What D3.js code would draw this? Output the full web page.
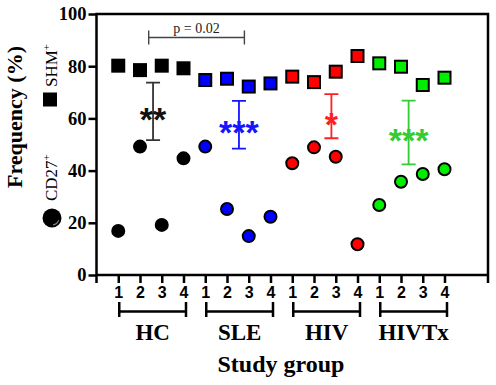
<!DOCTYPE html>
<html>
<head>
<meta charset="utf-8">
<script src="https://cdn.jsdelivr.net/npm/d3@7"></script>
<style>
  body { margin: 0; background: #fff; }
  svg { display: block; }
</style>
</head>
<body>
<div id="chart"></div>
<script>
// data
var groups = ["HC", "SLE", "HIV", "HIVTx"];
var samples = ["1", "2", "3", "4"];
var groupColors = ["#000000", "#0000ff", "#ff0000", "#00ee00"];
var barColors = ["#333333", "#1414ff", "#ff1f1f", "#33cc33"];

// SHM+ (squares) and CD27+ (circles), 4 samples per group
var shm = [80.2, 78.5, 80.2, 79.2, 74.7, 75.2, 72.2, 73.4, 76.0, 73.9, 77.9, 83.9, 81.1, 79.8, 72.8, 75.6];
var cd27 = [16.9, 49.2, 19.2, 44.7, 49.2, 25.3, 14.9, 22.3, 42.8, 48.9, 45.3, 11.8, 26.8, 35.7, 38.7, 40.5];

// difference bars between the two markers
var barLow = [51.7, 48.4, 52.4, 42.4];
var barHigh = [73.7, 66.7, 69.3, 66.8];
var barPos = [1.6, 5.55, 9.8, 13.35];
var stars = ["**", "***", "*", "***"];

var yTicks = [0, 20, 40, 60, 80, 100];
var pText = "p = 0.02";
var pRange = [1.4, 5.8];
var pLevel = 91;

var serif = "'Liberation Serif', 'Times New Roman', serif";
var sans = "'Liberation Sans', Arial, sans-serif";

var W = 496, H = 385;
var svg = d3.select("#chart").append("svg")
    .attr("width", W)
    .attr("height", H);

var x = d3.scaleLinear().domain([-1, 17]).range([96.5, 488]);
var y = d3.scaleLinear().domain([0, 100]).range([275, 14]);

var pts = shm.map(function(v, i) {
    return {i: i, g: Math.floor(i / 4), shm: v, cd27: cd27[i]};
});

// frame: left axis, top, right, bottom
var frame = svg.append("g").attr("stroke", "#000").attr("stroke-width", 2.5).attr("fill", "none");
frame.append("path").attr("d", "M" + x(-1) + "," + (y(0) + 8) + "V" + y(100) + "H" + x(17) + "V" + (y(0) + 8));

var yAx = svg.append("g")
    .attr("transform", "translate(" + x(-1) + ",0)")
    .call(d3.axisLeft(y).tickValues(yTicks).tickSize(8).tickPadding(2));
var xAx = svg.append("g")
    .attr("transform", "translate(0," + y(0) + ")")
    .call(d3.axisBottom(x).tickValues(d3.range(16)).tickSize(8).tickPadding(4)
        .tickFormat(function(d) { return samples[d % 4]; }));

[yAx, xAx].forEach(function(a) {
    a.select(".domain").remove();
    a.selectAll("line").attr("stroke", "#000").attr("stroke-width", 2.5);
    a.selectAll("text").attr("fill", "#000").style("font-weight", "bold");
});
svg.append("line")
    .attr("x1", x(-1)).attr("x2", x(17))
    .attr("y1", y(0)).attr("y2", y(0))
    .attr("stroke", "#000").attr("stroke-width", 2.5);
yAx.selectAll("text").style("font-family", serif).style("font-size", "18.5px");
xAx.selectAll("text").style("font-family", sans).style("font-size", "16px");

// group brackets under the ticks
var gb = svg.append("g").attr("stroke", "#000").attr("stroke-width", 2.5).attr("fill", "none");
groups.forEach(function(g, k) {
    var x0 = x(k * 4) + 1, x1 = x(k * 4 + 3) + 2.5, yy = 311.5;
    gb.append("path").attr("d", "M" + x0 + ",302V317M" + x0 + "," + yy + "H" + x1 + "M" + x1 + ",302V317");
    svg.append("text")
        .attr("x", (x0 + x1) / 2).attr("y", 340)
        .attr("text-anchor", "middle")
        .style("font-family", serif).style("font-size", "23px").style("font-weight", "bold")
        .text(g);
});

svg.append("text")
    .attr("x", 281).attr("y", 372)
    .attr("text-anchor", "middle")
    .style("font-family", serif).style("font-size", "24px").style("font-weight", "bold")
    .text("Study group");

// y title and marker legend
svg.append("text")
    .attr("transform", "translate(22,117) rotate(-90)")
    .attr("text-anchor", "middle")
    .style("font-family", serif).style("font-size", "22px").style("font-weight", "bold")
    .text("Frequency (%)");

svg.append("rect").attr("x", 43).attr("y", 92.5).attr("width", 14).attr("height", 14).attr("fill", "#000");
var t1 = svg.append("text")
    .attr("transform", "translate(57,87) rotate(-90)")
    .style("font-family", serif).style("font-size", "17px");
t1.append("tspan").text("SHM");
t1.append("tspan").attr("dy", -7).style("font-size", "11px").text("+");

svg.append("circle").attr("cx", 52).attr("cy", 218).attr("r", 9.5).attr("fill", "#000");
svg.append("path")
    .attr("d", d3.arc()({innerRadius: 6.5, outerRadius: 7.5, startAngle: 1.9, endAngle: 3.0}))
    .attr("transform", "translate(52,218)")
    .attr("fill", "#888");
var t2 = svg.append("text")
    .attr("transform", "translate(57,201) rotate(-90)")
    .style("font-family", serif).style("font-size", "17px");
t2.append("tspan").text("CD27");
t2.append("tspan").attr("dy", -7).style("font-size", "11px").text("+");

// p-value bracket
var pb = svg.append("g").attr("stroke", "#444").attr("stroke-width", 1.4).attr("fill", "none");
var pY = y(pLevel);
pb.append("path").attr("d",
    "M" + x(pRange[0]) + "," + (pY - 7) + "V" + (pY + 7) +
    "M" + x(pRange[0]) + "," + pY + "H" + x(pRange[1]) +
    "M" + x(pRange[1]) + "," + (pY - 7) + "V" + (pY + 7));
svg.append("text")
    .attr("x", (x(pRange[0]) + x(pRange[1])) / 2).attr("y", pY - 4.5)
    .attr("text-anchor", "middle")
    .style("font-family", serif).style("font-size", "14px").attr("fill", "#222")
    .text(pText);

// error bars + stars
groups.forEach(function(g, k) {
    var cx = x(barPos[k]), t = y(barHigh[k]), b = y(barLow[k]);
    svg.append("path")
        .attr("d", "M" + (cx - 7) + "," + t + "H" + (cx + 7) + "M" + cx + "," + t + "V" + b + "M" + (cx - 7) + "," + b + "H" + (cx + 7))
        .attr("stroke", barColors[k]).attr("stroke-width", 1.8).attr("fill", "none");
    var fs = 34;
    svg.append("text")
        .attr("x", cx).attr("y", (t + b) / 2 + 0.57 * fs)
        .attr("text-anchor", "middle")
        .style("font-family", sans).style("font-size", fs + "px").style("font-weight", "bold")
        .attr("fill", k == 0 ? "#111" : barColors[k])
        .text(stars[k]);
});

// markers
svg.append("g").selectAll("rect")
    .data(pts).enter().append("rect")
    .attr("x", function(d) { return x(d.i) - 6; })
    .attr("y", function(d) { return y(d.shm) - 6; })
    .attr("width", 12).attr("height", 12)
    .attr("fill", function(d) { return groupColors[d.g]; })
    .attr("stroke", "#000").attr("stroke-width", 2);

svg.append("g").selectAll("circle")
    .data(pts).enter().append("circle")
    .attr("cx", function(d) { return x(d.i); })
    .attr("cy", function(d) { return y(d.cd27); })
    .attr("r", 6)
    .attr("fill", function(d) { return groupColors[d.g]; })
    .attr("stroke", "#000").attr("stroke-width", 2);
</script>
</body>
</html>
